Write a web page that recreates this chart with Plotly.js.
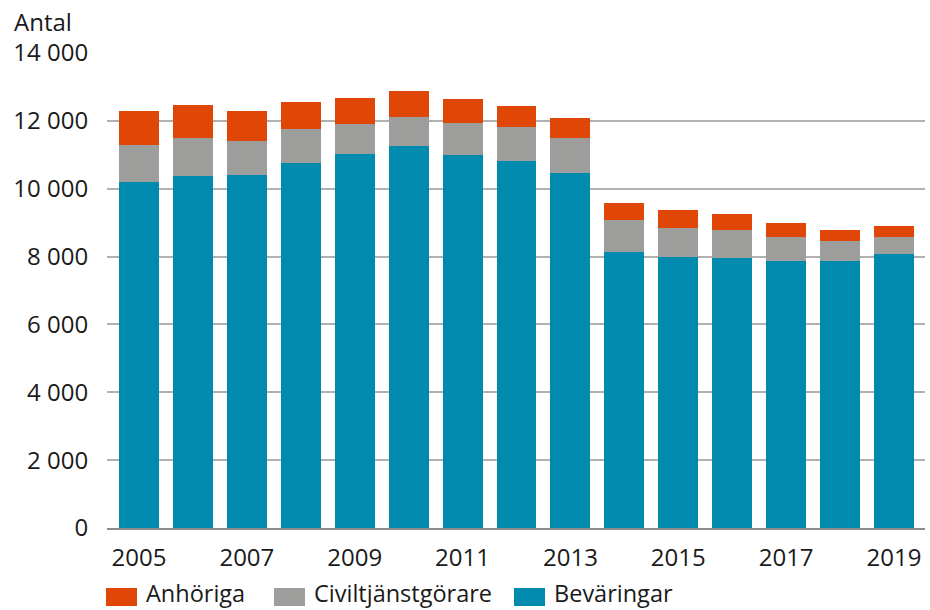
<!DOCTYPE html>
<html>
<head>
<meta charset="utf-8">
<script src="https://cdn.plot.ly/plotly-3.0.1.min.js"></script>
<style>html,body{margin:0;padding:0;background:#fff}#chart{width:930px;height:610px}</style>
</head>
<body>
<div id="chart"></div>
<script>
const years = [2005,2006,2007,2008,2009,2010,2011,2012,2013,2014,2015,2016,2017,2018,2019];
const bevaringar = [10200,10380,10400,10760,11020,11260,10990,10820,10460,8130,7990,7960,7870,7870,8080];
const civiltjanst = [1090,1110,1010,1000,890,850,950,1000,1030,950,850,820,710,590,500];
const anhoriga = [1000,980,880,800,760,770,700,620,590,500,530,470,410,320,320];
const seriesNames = ["Beväringar","Civiltjänstgörare","Anhöriga"];
const seriesColors = ["#008AAD","#9D9D9C","#E04605"];
const yTicks = [0,2000,4000,6000,8000,10000,12000,14000];
const yLabel = "Antal";

const FONT = "Open Sans, Noto Sans, sans-serif";
const L = 107, R = 5, T = 53, B = 82, W = 930, H = 610;
const pw = W - L - R, ph = H - T - B;
const px = x => (x - L) / pw;
const py = y => (H - B - y) / ph;

const values = [bevaringar, civiltjanst, anhoriga];
const traces = values.map((v, i) => ({
  type: "bar",
  x: years,
  y: v,
  name: seriesNames[i],
  marker: {color: seriesColors[i], line: {width: 0}},
  width: 0.74,
  hoverinfo: "x+y+name"
}));

// custom legend (order: Anhöriga, Civiltjänstgörare, Beväringar)
const legendOrder = [2, 1, 0];
const legendSquareX = [106, 274, 514];
const shapes = [];
const annotations = [{
  xref: "paper", yref: "paper", x: px(12), y: py(21), xanchor: "left", yanchor: "middle",
  text: yLabel, showarrow: false, font: {family: FONT, size: 24, color: "#1a1a1a"}
}];
legendOrder.forEach((si, k) => {
  const x0 = legendSquareX[k];
  shapes.push({type: "rect", xref: "paper", yref: "paper",
    x0: px(x0), x1: px(x0 + 31), y0: py(588), y1: py(606),
    fillcolor: seriesColors[si], line: {width: 0}});
  annotations.push({xref: "paper", yref: "paper", x: px(x0 + 39), y: py(593),
    xanchor: "left", yanchor: "middle", text: seriesNames[si], showarrow: false,
    borderpad: 0,
    font: {family: FONT, size: 23.5, color: "#1a1a1a"}});
});

const layout = {
  width: W, height: H,
  margin: {l: L, r: R, t: T, b: B, pad: 0},
  barmode: "stack",
  bargap: 0.26,
  showlegend: false,
  separators: ", ",
  paper_bgcolor: "#fff",
  plot_bgcolor: "#fff",
  font: {family: FONT, size: 24, color: "#1a1a1a"},
  xaxis: {
    range: [2004.407, 2019.575],
    tickmode: "array",
    tickvals: years.filter((y, i) => i % 2 === 0),
    ticktext: years.filter((y, i) => i % 2 === 0).map(String),
    showgrid: false, zeroline: false,
    showline: true, linecolor: "#8c8c8c", linewidth: 1.5,
    ticks: "outside", ticklen: 8, tickcolor: "rgba(0,0,0,0)",
    tickfont: {family: FONT, size: 24, color: "#1a1a1a"},
    fixedrange: true
  },
  yaxis: {
    range: [0, 14000],
    tickmode: "array",
    tickvals: yTicks,
    tickformat: ",d",
    showgrid: true, gridcolor: "#b1b1b1", gridwidth: 2,
    zeroline: false, showline: false,
    ticks: "outside", ticklen: 13, tickcolor: "rgba(0,0,0,0)",
    tickfont: {family: FONT, size: 24, color: "#1a1a1a"},
    fixedrange: true
  },
  shapes: shapes,
  annotations: annotations
};

Plotly.newPlot("chart", traces, layout, {displayModeBar: false, staticPlot: true});
</script>
</body>
</html>
